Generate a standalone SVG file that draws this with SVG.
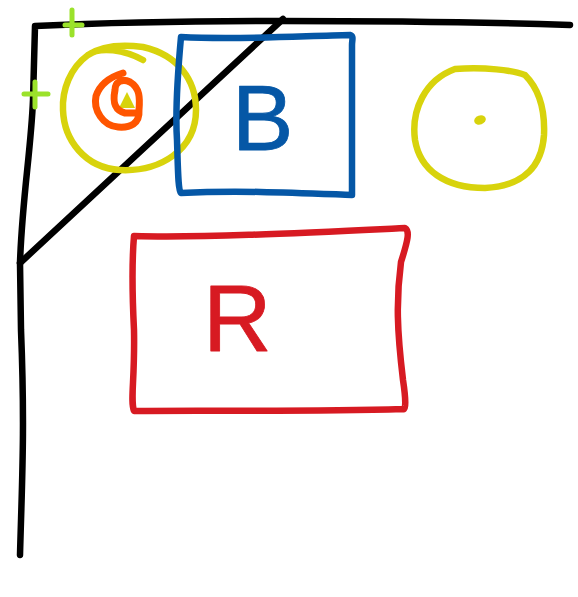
<svg xmlns="http://www.w3.org/2000/svg" width="578" height="597" viewBox="0 0 578 597">
<style>
.s{fill:none;stroke-linecap:round;stroke-linejoin:round;stroke-width:6.5}
.k{stroke:#000}
.y{stroke:#d8d30c}
.b{stroke:#0557a6}
.r{stroke:#d71a22}
.o{stroke:#ff5500;stroke-width:7}
.g{stroke:#9be22b;stroke-width:5}
.lbl{font-family:"Liberation Sans",Arial,sans-serif;stroke-width:0.8;stroke-linejoin:round}
</style>
<rect width="578" height="597" fill="#fff"/>
<g id="frame">
<path class="s k" d="M20,555 C22,480 25,430 21,330 L20,263 C22,200 31,150 33,100 L35,26 C120,22 200,21 280,21 C400,21 480,22 570,25"/>
<path class="s k" d="M283,19 L20,263"/>
</g>
<g id="marks">
<path class="s g" d="M72,10 L72,35 M65,25 L82,25"/>
<path class="s g" d="M35,82 L35,107 M24,94 L48,94"/>
</g>
<g id="circle-left">
<path class="s y" d="M143,60 C125,50 100,46 88,55 C70,68 62,90 63,110 C64,140 85,168 120,170 C160,172 196,150 196,110 C196,80 178,55 143,47 C120,44 100,47 88,55"/>
<path d="M119,108 L127,92 L135,108 Z" fill="#d8d30c"/>
<path class="s o" d="M123,73 C110,77 100,84 96,96 C93,110 103,126 118,127 C130,128 140,124 139,110 C140,98 140,88 130,82 C122,78 115,82 115,90 C113,100 113,110 125,113 L137,113"/>
</g>
<g id="box-b">
<path class="s b" d="M181,37 C240,40 300,36 350,35 C354,36 352,40 352,45 L352,195 C300,193 240,190 181,193 C178,190 178,170 177,140 C175,110 178,70 181,37 Z"/>
<text class="lbl" x="232" y="150" font-size="92" fill="#0557a6" stroke="#0557a6">B</text>
</g>
<g id="box-r">
<path class="s r" d="M134,236 C200,238 300,233 405,228 C410,231 408,240 401,262 C396,300 397,330 403,380 C406,400 406,410 403,409 C300,412 200,410 134,411 C130,400 135,380 134,330 C132,290 132,260 134,236 Z"/>
<text class="lbl" x="203" y="351" font-size="95" fill="#d71a22" stroke="#d71a22">R</text>
</g>
<g id="circle-right">
<path class="s y" d="M455,69 C485,67 512,70 525,75 C540,90 545,112 544,135 C542,165 525,186 485,188 C445,188 420,170 415,140 C411,110 425,80 455,69 Z"/>
<ellipse cx="480" cy="120" rx="6" ry="4.5" fill="#d8d30c" transform="rotate(-20 480 120)"/>
</g>
</svg>
